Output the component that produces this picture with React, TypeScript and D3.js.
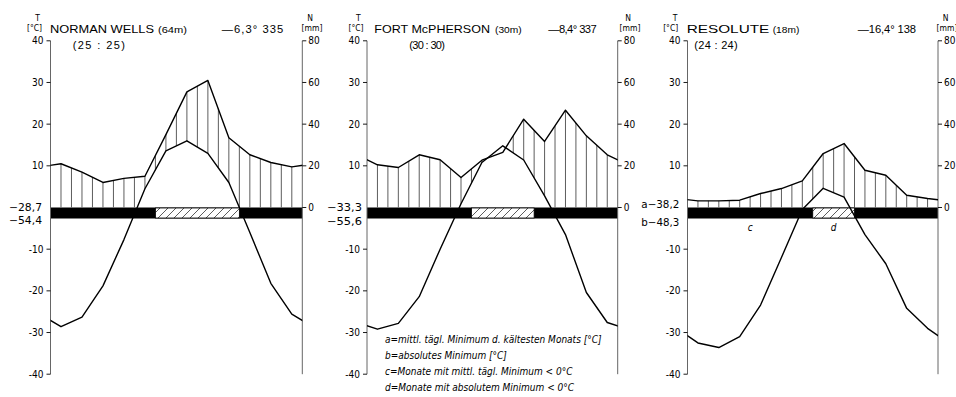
import React from "react";
import * as d3 from "d3";

// monthly means Jan..Dec
const normanTemp = [-28.6, -26.3, -18.8, -7.7, 4.5, 13.6, 16.0, 13.0, 6.0, -6.0, -18.2, -25.6];
const normanPrec = [21, 17, 12, 14, 15, 35, 55.5, 61, 33.5, 25.3, 21.6, 19.5];
const mcphersonTemp = [-29.2, -27.8, -21.4, -10.0, 0.9, 10.8, 14.8, 11.4, 2.8, -6.5, -20.4, -27.6];
const mcphersonPrec = [20.5, 19.2, 25.3, 22.9, 14.4, 22.7, 26.5, 42.4, 31.7, 46.7, 34.4, 25.3];
const resoluteTemp = [-32.5, -33.6, -31.0, -23.4, -12.0, -0.5, 4.6, 2.5, -6.5, -13.5, -24.2, -29.0];
const resolutePrec = [3.2, 3.2, 3.5, 6.7, 9.1, 12.8, 25.9, 30.7, 17.9, 15.5, 5.9, 4.3];

// months (index) with absolute minimum < 0 but mean daily minimum >= 0 -> hatched part of the bar
const normanMildMonths = [5, 6, 7, 8];
const mcphersonMildMonths = [5, 6, 7];
const resoluteMildMonths = [6, 7];

const stationNames = ["NORMAN WELLS", "FORT McPHERSON", "RESOLUTE"];
const elevations = ["(64m)", "(30m)", "(18m)"];
const annualValues = ["—6,3° 335", "—8,4° 337", "—16,4° 138"];
const periods = ["(25 : 25)", "(30 : 30)", "(24 : 24)"];
const coldMinLabels = ["−28,7", "−33,3", "a−38,2"];
const absMinLabels = ["−54,4", "−55,6", "b−48,3"];

const tempTicks = [40, 30, 20, 10, -10, -20, -30, -40];
const precTicks = [0, 20, 40, 60, 80];

const legendLines = [
  "a=mittl. tägl. Minimum d. kältesten Monats [°C]",
  "b=absolutes Minimum [°C]",
  "c=Monate mit mittl. tägl. Minimum < 0°C",
  "d=Monate mit absolutem Minimum < 0°C",
];

const temps = [normanTemp, mcphersonTemp, resoluteTemp];
const precs = [normanPrec, mcphersonPrec, resolutePrec];
const mild = [normanMildMonths, mcphersonMildMonths, resoluteMildMonths];

// page layout of the three diagrams
const layout = [
  { left: 50.5, right: 302.3, title: [50, 154], elev: [158, 187], val: [221.7, 283.3], sub: [72.7, 125], tx: 37.5, degx: 34.5, nx: 310, mmx: 312, minx: 42, minw: 33, cy0: 211, cy1: 223.5 },
  { left: 367, right: 617.7, title: [374.3, 490], elev: [495, 521.7], val: [548.3, 596.7], sub: [409.3, 445], tx: 358.3, degx: 356, nx: 628, mmx: 630, minx: 362, minw: 35, cy0: 211, cy1: 225 },
  { left: 687.5, right: 938, title: [686.7, 769.3], elev: [772.7, 799.3], val: [857.7, 916], sub: [694.3, 737.7], tx: 675, degx: 670.7, nx: 945.5, mmx: 947, minx: 679.3, minw: 38, cy0: 207.5, cy1: 225.5 },
];

const SANS = "'Liberation Sans', Arial, sans-serif";
const NARROW = "'Liberation Sans Narrow', 'DejaVu Sans Condensed', 'Roboto Condensed', sans-serif";

const yT = d3.scaleLinear().domain([-40, 40]).range([374.2, 40.8]);
const yP = d3.scaleLinear().domain([0, 80]).range([yT(0), yT(40)]);
const BAR = 11;

function Panel({ i }: { i: number }) {
  const L = layout[i];
  const temp = temps[i];
  const prec = precs[i];
  const x = d3.scaleLinear().domain([0, 12]).range([L.left, L.right]);
  const at = (arr: number[], k: number) => arr[(k + 12) % 12];
  const ks = d3.range(-1, 13); // Dec of previous year .. Jan of next, clipped at the frame

  const tempLine = d3.line<number>().x((k) => x(k + 0.5)).y((k) => yT(at(temp, k)));
  const precLine = d3.line<number>().x((k) => x(k + 0.5)).y((k) => yP(at(prec, k)));
  const precArea = d3.area<number>().x((k) => x(k + 0.5)).y0(yT(0)).y1((k) => yP(at(prec, k)));
  const aboveTemp = d3.area<number>().x((k) => x(k + 0.5)).y0(0).y1((k) => yT(at(temp, k)));

  const hatchX = d3.range(1, 24).map((h) => x(h / 2));
  const m = mild[i];
  const mildX0 = x(d3.min(m)!);
  const mildX1 = x(d3.max(m)! + 1);

  return (
    <g>
      <defs>
        <clipPath id={`frame${i}`}>
          <rect x={L.left} y={0} width={L.right - L.left} height={397} />
        </clipPath>
        <clipPath id={`prec${i}`}>
          <path d={precArea(ks)!} />
        </clipPath>
        <clipPath id={`warm${i}`}>
          <path d={aboveTemp(ks)!} />
        </clipPath>
      </defs>

      {/* humid period hatching */}
      <g clipPath={`url(#frame${i})`}>
        <g clipPath={`url(#prec${i})`}>
          <g clipPath={`url(#warm${i})`}>
            {hatchX.map((hx, j) => (
              <line key={j} x1={hx} x2={hx} y1={yT(0)} y2={yT(40)} stroke="#333" strokeWidth={0.8} />
            ))}
          </g>
        </g>
      </g>

      {/* frost bar */}
      <rect x={L.left} y={yT(0)} width={L.right - L.left} height={BAR} fill="#000" />
      <rect x={mildX0} y={yT(0) + 0.5} width={mildX1 - mildX0} height={BAR - 1} fill="#fff" />
      <rect x={mildX0} y={yT(0) + 0.5} width={mildX1 - mildX0} height={BAR - 1} fill="url(#diag)" stroke="#000" strokeWidth={0.8} />

      {/* axes */}
      <line x1={L.left} x2={L.left} y1={yT(40)} y2={yT(-40)} stroke="#666" strokeWidth={1} />
      <line x1={L.right} x2={L.right} y1={yT(40)} y2={yT(-40)} stroke="#666" strokeWidth={1} />
      {tempTicks.map((t) => (
        <g key={t}>
          <line x1={L.left - 4} x2={L.left} y1={yT(t)} y2={yT(t)} stroke="#000" strokeWidth={0.9} />
          <text x={L.left - 7} y={yT(t)} dy="0.35em" textAnchor="end" fontSize={10} fontFamily={NARROW}>
            {t < 0 ? `-${-t}` : t}
          </text>
        </g>
      ))}
      {precTicks.map((p) => (
        <g key={p}>
          <line x1={L.right} x2={L.right + 4} y1={yP(p)} y2={yP(p)} stroke="#000" strokeWidth={0.9} />
          <text x={L.right + 6} y={yP(p)} dy="0.35em" textAnchor="start" fontSize={10} fontFamily={NARROW}>
            {p}
          </text>
        </g>
      ))}

      {/* curves */}
      <g clipPath={`url(#frame${i})`} fill="none" stroke="#000" strokeWidth={1.4} strokeLinejoin="round">
        <path d={precLine(ks)!} />
        <path d={tempLine(ks)!} />
      </g>

      {/* header */}
      <text x={L.tx} y={20.5} textAnchor="middle" fontSize={8.5} fontFamily={NARROW}>T</text>
      <text x={L.degx} y={31} textAnchor="middle" fontSize={8.5} fontFamily={NARROW}>[°C]</text>
      <text x={L.nx} y={20.5} textAnchor="middle" fontSize={8.5} fontFamily={NARROW}>N</text>
      <text x={L.mmx} y={31} textAnchor="middle" fontSize={8.5} fontFamily={NARROW}>[mm]</text>
      <text x={L.title[0]} y={33} fontSize={11.8} fontFamily={SANS} textLength={L.title[1] - L.title[0]} lengthAdjust="spacingAndGlyphs">
        {stationNames[i]}
      </text>
      <text x={L.elev[0]} y={33} fontSize={9.5} fontFamily={SANS} textLength={L.elev[1] - L.elev[0]} lengthAdjust="spacingAndGlyphs">
        {elevations[i]}
      </text>
      <text x={L.val[0]} y={33} fontSize={11.2} fontFamily={SANS} textLength={L.val[1] - L.val[0]} lengthAdjust="spacing">
        {annualValues[i]}
      </text>
      <text x={L.sub[0]} y={48.5} fontSize={11} fontFamily={SANS} textLength={L.sub[1] - L.sub[0]} lengthAdjust="spacing">
        {periods[i]}
      </text>

      {/* minimum labels */}
      <text x={L.minx - L.minw} y={L.cy0} fontSize={10} fontFamily={NARROW} textLength={L.minw} lengthAdjust="spacingAndGlyphs">
        {coldMinLabels[i]}
      </text>
      <text x={L.minx - L.minw} y={L.cy1} fontSize={10} fontFamily={NARROW} textLength={L.minw} lengthAdjust="spacingAndGlyphs">
        {absMinLabels[i]}
      </text>
    </g>
  );
}

export default function App() {
  const x3 = d3.scaleLinear().domain([0, 12]).range([layout[2].left, layout[2].right]);
  return (
    <svg width={956} height={397} style={{ position: "absolute", left: 0, top: 0, background: "#fff" }}>
      <defs>
        <pattern id="diag" patternUnits="userSpaceOnUse" width={8} height={8}>
          <path d="M0,8 L8,0 M-2,2 L2,-2 M6,10 L10,6" stroke="#333" strokeWidth={0.8} />
        </pattern>
      </defs>
      <rect width={956} height={397} fill="#fff" />
      {[0, 1, 2].map((i) => (
        <Panel key={i} i={i} />
      ))}
      <text x={x3(3)} y={231} textAnchor="middle" fontSize={10} fontStyle="italic" fontFamily={NARROW}>c</text>
      <text x={x3(7)} y={231} textAnchor="middle" fontSize={10} fontStyle="italic" fontFamily={NARROW}>d</text>
      {legendLines.map((t, j) => (
        <text key={j} x={385} y={343.3 + j * 15.8} fontSize={10} fontStyle="italic" fontFamily={NARROW}>
          {t}
        </text>
      ))}
    </svg>
  );
}
